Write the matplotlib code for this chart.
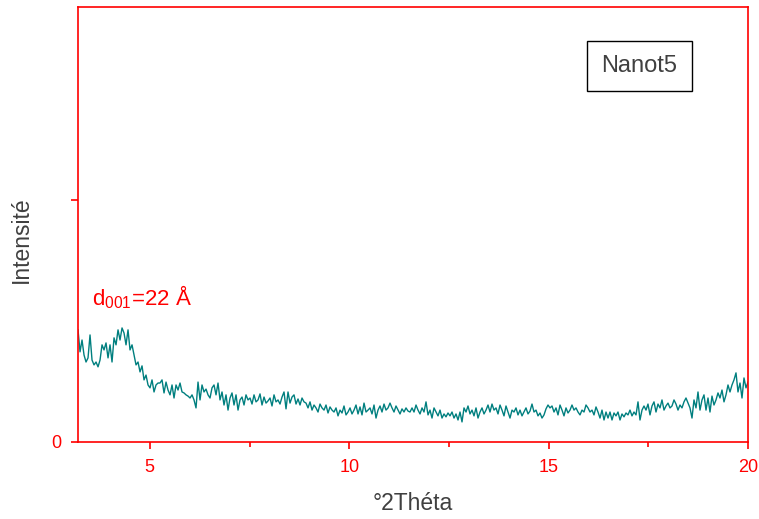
import matplotlib.pyplot as plt
import numpy as np
from matplotlib.ticker import FixedLocator, NullFormatter

plt.rcParams['font.family'] = ['Liberation Sans', 'DejaVu Sans']

# XRD scan, Nanot5 sample (intensity, arbitrary counts)
two_theta_start = 3.2
two_theta_end = 20.0
intensity = [
    464, 373, 422, 360, 331, 348, 443, 339, 319, 331, 311, 339, 402, 381, 410, 348, 402, 331, 431, 402,
    464, 422, 472, 451, 402, 464, 381, 402, 360, 319, 331, 290, 315, 257, 277, 236, 224, 257, 207, 236, 244,
    244, 257, 203, 248, 215, 195, 236, 182, 236, 215, 244, 207, 203, 195, 190, 182, 195, 174, 141, 248,
    174, 236, 207, 219, 195, 182, 224, 236, 195, 244, 174, 207, 153, 195, 132, 182, 203, 153, 195, 132,
    174, 186, 153, 195, 174,
    182, 157, 195, 166, 174, 199, 153, 186, 161, 170, 182, 149, 195, 166, 174, 157, 186, 207, 137, 207,
    161, 186, 195, 157, 178, 153, 182, 166, 161, 141, 166, 132, 153, 141, 124, 157, 141, 132, 153, 120,
    145, 132,
    124, 141, 108, 132, 120, 149, 112, 124, 141, 116, 132, 153, 116, 145, 112, 161, 124, 132, 141, 116,
    153, 99, 132, 149, 124, 157, 132, 141, 161, 141, 124, 149, 132, 116, 137, 124, 141, 128,
    124, 141, 124, 153, 132, 116, 141, 124, 166, 112, 132, 99, 141, 124, 108, 132, 99, 116, 104, 120,
    108, 124, 99, 116, 91, 124, 83, 141, 124, 149, 116, 132, 108, 141, 99, 124, 141, 116, 132, 153,
    124, 157, 132, 141, 116, 153, 132, 108, 149, 124, 99, 132, 124, 141, 112, 132, 108, 124, 141, 116,
    128, 157, 124, 132, 108, 120, 99, 112, 137, 153, 141, 149, 124, 141, 112, 153, 132, 108, 141, 120,
    132, 153, 132, 141, 124,
    112, 132, 124, 153, 141, 124, 132, 112, 145, 124, 99, 132, 91, 124, 99, 124, 91, 120, 108, 124,
    91, 116, 104, 120, 112, 132, 108, 124, 112, 166, 91, 132, 149, 132, 157, 112, 149, 166, 124, 157,
    141, 174, 132, 149, 161, 141, 149, 174, 157, 132, 153, 141, 166, 182, 161, 141, 99, 174, 141, 207,
    132, 174, 195, 132, 182, 124, 190, 153, 174, 203, 182, 215, 166, 195, 236, 207, 236, 257, 286, 207,
    244, 182, 265, 224, 248,
]
two_theta = np.linspace(two_theta_start, two_theta_end, len(intensity))

xticks = [5, 10, 15, 20]
xminor = [7.5, 12.5, 17.5]
yticks = [0, 1000]
ytick_labels = ['0', '']

fig = plt.figure(figsize=(7.59, 5.19), dpi=100)
ax = fig.add_axes([0.1028, 0.1484, 0.8827, 0.838])

ax.plot(two_theta, intensity, color='#007f7f', lw=1.0)

ax.set_xlim(two_theta_start, two_theta_end)
ax.set_ylim(0, 1800)
ax.set_xticks(xticks)
ax.xaxis.set_minor_locator(FixedLocator(xminor))
ax.xaxis.set_minor_formatter(NullFormatter())
ax.set_yticks(yticks)
ax.set_yticklabels(ytick_labels)

for s in ax.spines.values():
    s.set_color('red')
    s.set_linewidth(1.2)
ax.tick_params(axis='both', which='major', direction='out', length=5, width=1.2,
               color='red', labelcolor='red', labelsize=13)
ax.tick_params(axis='x', which='minor', direction='out', length=3.5, width=1.2, color='red')
ax.tick_params(axis='x', pad=7)
ax.tick_params(axis='y', pad=7)

ax.set_xlabel('°2Théta', fontsize=16.5, color='#404040', labelpad=12)
ax.set_ylabel('Intensité', fontsize=16.5, color='#404040')
ax.yaxis.set_label_coords(-0.068, 0.465)

ax.text(3.55, 565, r'd$_{\mathregular{001}}$=22 Å', color='red', fontsize=16)

ax.text(17.28, 1556, 'Nanot5', fontsize=17, color='#404040', ha='center', va='center',
        bbox=dict(boxstyle='square,pad=0.6', fc='white', ec='black', lw=1))

fig.savefig('out.png', dpi=100)
